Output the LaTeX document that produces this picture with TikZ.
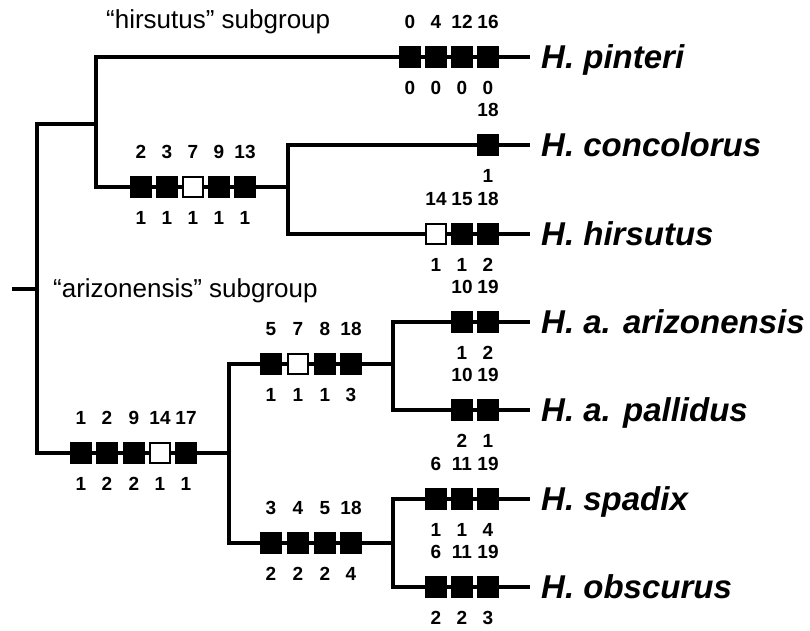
\documentclass[tikz,border=0pt]{standalone}
\usepackage{fontspec}
\setmainfont{Liberation Sans}

% one character change on a branch: box plus character number above and state below
\newcommand\charchange[6]{%
  \node[#4] (#1) at (#2,#3) {};
  \node[num] (#1-c) at (#2,#3-35) {#5};
  \node[num] (#1-s) at (#2,#3+31) {#6};}

\begin{document}
\begin{tikzpicture}[x=1pt,y=-1pt,
  branch/.style={line width=3.2pt, line join=miter},
  chgbox/.style={draw=black, line width=1.6pt, minimum width=20.5pt,
                 minimum height=20.5pt, inner sep=0pt, outer sep=0pt},
  uniq/.style={chgbox, fill=black},
  homo/.style={chgbox, fill=white},
  num/.style={font=\fontsize{19}{22}\selectfont\bfseries, inner sep=0pt},
  taxon/.style={font=\fontsize{33}{38}\selectfont\bfseries\itshape,
                anchor=base west, inner sep=0pt},
  grouplabel/.style={font=\fontsize{26}{30}\selectfont, anchor=base west, inner sep=0pt}]

\useasboundingbox (0,0) rectangle (810,630);

% junctions of the tree
\coordinate (root) at (12,289);
\coordinate (r)    at (37,289);
\coordinate (rt)   at (37,124);
\coordinate (rb)   at (37,453);
\coordinate (h)    at (96,124);
\coordinate (ht)   at (96,57);
\coordinate (hb)   at (96,187);
\coordinate (hc)   at (288,187);
\coordinate (hct)  at (288,145);
\coordinate (hcb)  at (288,234);
\coordinate (a)    at (229,453);
\coordinate (at)   at (229,364);
\coordinate (ab)   at (229,543);
\coordinate (ap)   at (393,364);
\coordinate (apt)  at (393,322);
\coordinate (apb)  at (393,410);
\coordinate (so)   at (393,543);
\coordinate (sot)  at (393,499);
\coordinate (sob)  at (393,587);
% tip ends
\coordinate (e-pin) at (530,57);
\coordinate (e-con) at (530,145);
\coordinate (e-hir) at (530,234);
\coordinate (e-ari) at (530,322);
\coordinate (e-pal) at (530,410);
\coordinate (e-spa) at (530,499);
\coordinate (e-obs) at (530,587);

% branches
\draw[branch] (root) -- (r);
\draw[branch] (h) -- (rt) -- (rb) -- (a);
\draw[branch] (e-pin) -- (ht) -- (hb) -- (hc);
\draw[branch] (e-con) -- (hct) -- (hcb) -- (e-hir);
\draw[branch] (ap) -- (at) -- (ab) -- (so);
\draw[branch] (e-ari) -- (apt) -- (apb) -- (e-pal);
\draw[branch] (e-spa) -- (sot) -- (sob) -- (e-obs);

% H. pinteri
\charchange{pin1}{410}{57}{uniq}{0}{0}
\charchange{pin2}{436}{57}{uniq}{4}{0}
\charchange{pin3}{462}{57}{uniq}{12}{0}
\charchange{pin4}{488}{57}{uniq}{16}{0}
% H. concolorus
\charchange{con1}{488}{145}{uniq}{18}{1}
% H. hirsutus
\charchange{hir1}{436}{234}{homo}{14}{1}
\charchange{hir2}{462}{234}{uniq}{15}{1}
\charchange{hir3}{488}{234}{uniq}{18}{2}
% concolorus + hirsutus
\charchange{hc1}{141}{187}{uniq}{2}{1}
\charchange{hc2}{167}{187}{uniq}{3}{1}
\charchange{hc3}{193}{187}{homo}{7}{1}
\charchange{hc4}{219}{187}{uniq}{9}{1}
\charchange{hc5}{245}{187}{uniq}{13}{1}
% arizonensis subgroup
\charchange{az1}{81}{453}{uniq}{1}{1}
\charchange{az2}{107}{453}{uniq}{2}{2}
\charchange{az3}{134}{453}{uniq}{9}{2}
\charchange{az4}{160}{453}{homo}{14}{1}
\charchange{az5}{186}{453}{uniq}{17}{1}
% H. arizonensis clade
\charchange{ap1}{271}{364}{uniq}{5}{1}
\charchange{ap2}{298}{364}{homo}{7}{1}
\charchange{ap3}{325}{364}{uniq}{8}{1}
\charchange{ap4}{351}{364}{uniq}{18}{3}
% spadix + obscurus
\charchange{so1}{271}{543}{uniq}{3}{2}
\charchange{so2}{298}{543}{uniq}{4}{2}
\charchange{so3}{325}{543}{uniq}{5}{2}
\charchange{so4}{351}{543}{uniq}{18}{4}
% H. a. arizonensis
\charchange{ari1}{462}{322}{uniq}{10}{1}
\charchange{ari2}{488}{322}{uniq}{19}{2}
% H. a. pallidus
\charchange{pal1}{462}{410}{uniq}{10}{2}
\charchange{pal2}{488}{410}{uniq}{19}{1}
% H. spadix
\charchange{spa1}{436}{499}{uniq}{6}{1}
\charchange{spa2}{462}{499}{uniq}{11}{1}
\charchange{spa3}{488}{499}{uniq}{19}{4}
% H. obscurus
\charchange{obs1}{436}{587}{uniq}{6}{2}
\charchange{obs2}{462}{587}{uniq}{11}{2}
\charchange{obs3}{488}{587}{uniq}{19}{3}

% taxon names
\node[taxon] (t-pin) at (541,57+11.8)  {H. pinteri};
\node[taxon] (t-con) at (541,145+11.8) {H. concolorus};
\node[taxon] (t-hir) at (541,234+11.8) {H. hirsutus};
\node[taxon] (t-ari) at (541,322+11.8) {H. a. arizonensis};
\node[taxon] (t-pal) at (541,410+11.8) {H. a. pallidus};
\node[taxon] (t-spa) at (541,499+11.8) {H. spadix};
\node[taxon] (t-obs) at (541,587+11.8) {H. obscurus};

% subgroup labels
\node[grouplabel] (g-hir) at (106,28)  {“hirsutus” subgroup};
\node[grouplabel] (g-ari) at (53,297)  {“arizonensis” subgroup};
\end{tikzpicture}
\end{document}
